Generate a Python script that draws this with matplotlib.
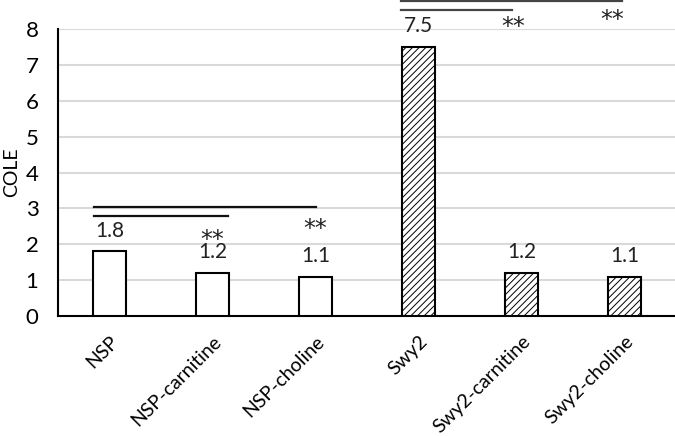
import matplotlib.pyplot as plt
import numpy as np

plt.rcParams['font.family'] = ['Lato', 'DejaVu Sans']
plt.rcParams['hatch.linewidth'] = 0.7

# data
groups = ['NSP', 'NSP-carnitine', 'NSP-choline', 'Swy2', 'Swy2-carnitine', 'Swy2-choline']
cole = [1.8, 1.2, 1.1, 7.5, 1.2, 1.1]
hatched = [False, False, False, True, True, True]

# significance brackets: (x start, x end, y)
nsp_lines = [(-0.15, 2.0, 3.03), (-0.15, 1.15, 2.78)]
nsp_stars = [(1, 2.12), (2, 2.42)]
swy_lines = [(2.83, 4.98, 8.78), (2.83, 3.91, 8.53)]
swy_stars = [(3.92, 8.05), (4.88, 8.25)]

fig = plt.figure(figsize=(6.75, 4.36), dpi=100)
ax = fig.add_axes([58/675, 120/436, 618/675, 287/436])

x = np.arange(len(groups))
for i in range(len(groups)):
    ax.bar(x[i], cole[i], width=0.32, color='white', edgecolor='black',
           linewidth=1.5, hatch='/////' if hatched[i] else None, zorder=3)
    ax.text(x[i], cole[i] + 0.58, f'{cole[i]:.1f}', ha='center', va='center',
            fontsize=15, color='#222222')

for x0, x1, y in nsp_lines:
    ax.plot([x0, x1], [y, y], color='#111111', lw=1.6, clip_on=False)
for x0, x1, y in swy_lines:
    ax.plot([x0, x1], [y, y], color='#444444', lw=1.6, clip_on=False)
for xs, y in nsp_stars + swy_stars:
    ax.text(xs, y, '**', ha='center', va='center', fontsize=17, color='#222222',
            family='DejaVu Sans')

ax.set_xlim(-0.5, 5.5)
ax.set_ylim(0, 8)
ax.set_yticks(range(9))
ax.yaxis.grid(True, color='#d9d9d9', lw=1.5, zorder=0)
ax.set_axisbelow(True)
ax.set_xticks(x)
ax.set_xticklabels(groups, rotation=45, ha='right', rotation_mode='anchor')
ax.tick_params(axis='both', length=0)
ax.tick_params(axis='x', labelsize=14, pad=12)
ax.tick_params(axis='y', labelsize=16, pad=14)
for s in ['top', 'right']:
    ax.spines[s].set_visible(False)
ax.spines['left'].set_linewidth(1.5)
ax.spines['bottom'].set_linewidth(1.5)
ax.set_ylabel('COLE', fontsize=14, labelpad=4)

fig.savefig('out.png', dpi=100)
